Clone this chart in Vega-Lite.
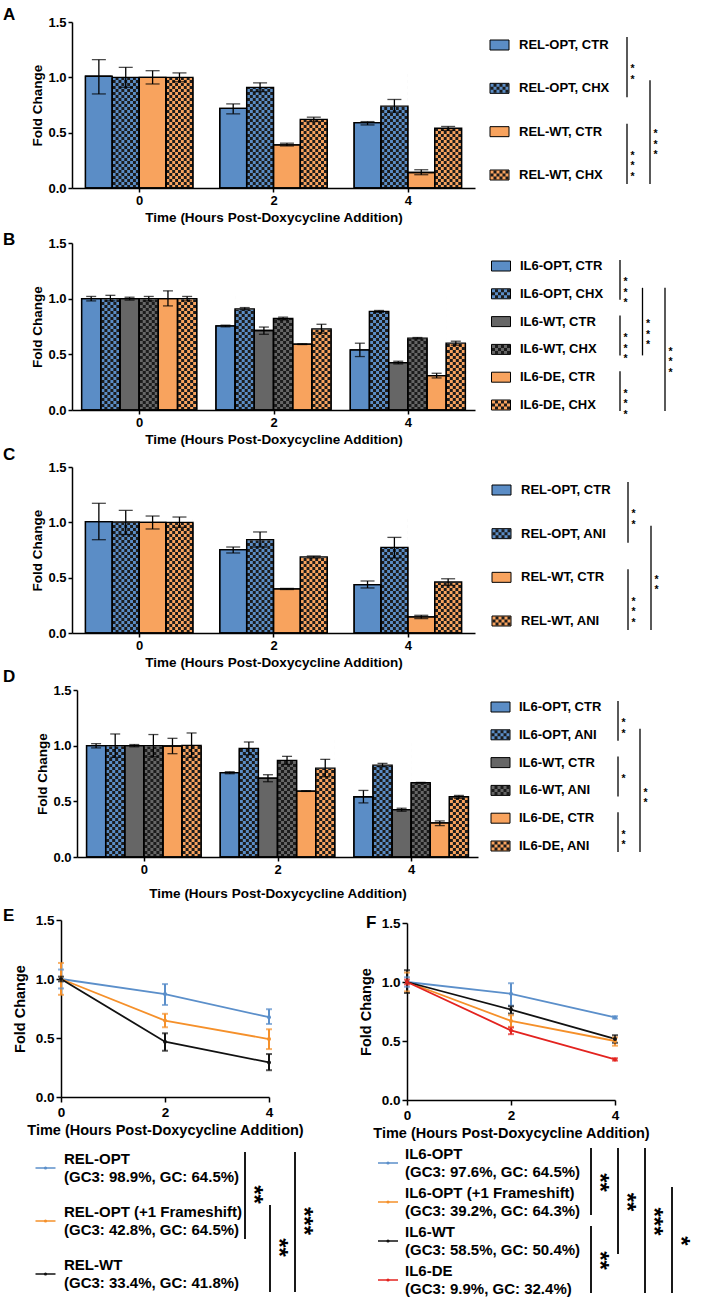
{
 "$schema": "https://vega.github.io/schema/vega-lite/v6.json",
 "background": "white",
 "padding": {"left": 3, "top": 6, "right": 2, "bottom": 2},
 "config": {
  "font": "Liberation Sans",
  "view": {"stroke": null},
  "axis": {"domainColor": "black", "domainWidth": 1.5, "tickColor": "black", "tickWidth": 1.5, "tickSize": 4, "labelColor": "black", "labelFont": "Liberation Sans", "labelFontWeight": "bold", "labelFontSize": 13, "labelPadding": 2, "titleColor": "black", "titleFont": "Liberation Sans", "titleFontWeight": "bold", "titleFontSize": 13.5, "grid": false},
  "title": {"font": "Liberation Sans", "fontSize": 17, "fontWeight": "bold", "color": "black", "anchor": "start", "frame": "group", "baseline": "alphabetic", "offset": 0},
  "text": {"font": "Liberation Sans", "fontWeight": "bold", "color": "black"}
 },
 "datasets": {
  "barsA": [
   {"time": "0", "construct": "REL-OPT", "treat": "CTR", "series": "REL-OPT, CTR", "mean": 1.01, "lo": 0.85, "hi": 1.16},
   {"time": "0", "construct": "REL-OPT", "treat": "CHX", "series": "REL-OPT, CHX", "mean": 1.0, "lo": 0.91, "hi": 1.09},
   {"time": "0", "construct": "REL-WT", "treat": "CTR", "series": "REL-WT, CTR", "mean": 1.0, "lo": 0.94, "hi": 1.06},
   {"time": "0", "construct": "REL-WT", "treat": "CHX", "series": "REL-WT, CHX", "mean": 1.0, "lo": 0.96, "hi": 1.04},
   {"time": "2", "construct": "REL-OPT", "treat": "CTR", "series": "REL-OPT, CTR", "mean": 0.72, "lo": 0.67, "hi": 0.76},
   {"time": "2", "construct": "REL-OPT", "treat": "CHX", "series": "REL-OPT, CHX", "mean": 0.91, "lo": 0.87, "hi": 0.95},
   {"time": "2", "construct": "REL-WT", "treat": "CTR", "series": "REL-WT, CTR", "mean": 0.39, "lo": 0.38, "hi": 0.405},
   {"time": "2", "construct": "REL-WT", "treat": "CHX", "series": "REL-WT, CHX", "mean": 0.62, "lo": 0.6, "hi": 0.64},
   {"time": "4", "construct": "REL-OPT", "treat": "CTR", "series": "REL-OPT, CTR", "mean": 0.59, "lo": 0.57, "hi": 0.6},
   {"time": "4", "construct": "REL-OPT", "treat": "CHX", "series": "REL-OPT, CHX", "mean": 0.74, "lo": 0.685, "hi": 0.8},
   {"time": "4", "construct": "REL-WT", "treat": "CTR", "series": "REL-WT, CTR", "mean": 0.14, "lo": 0.12, "hi": 0.165},
   {"time": "4", "construct": "REL-WT", "treat": "CHX", "series": "REL-WT, CHX", "mean": 0.54, "lo": 0.52, "hi": 0.556}
  ],
  "barsB": [
   {"time": "0", "construct": "IL6-OPT", "treat": "CTR", "series": "IL6-OPT, CTR", "mean": 1.0, "lo": 0.98, "hi": 1.02},
   {"time": "0", "construct": "IL6-OPT", "treat": "CHX", "series": "IL6-OPT, CHX", "mean": 1.0, "lo": 0.98, "hi": 1.03},
   {"time": "0", "construct": "IL6-WT", "treat": "CTR", "series": "IL6-WT, CTR", "mean": 1.0, "lo": 0.987, "hi": 1.013},
   {"time": "0", "construct": "IL6-WT", "treat": "CHX", "series": "IL6-WT, CHX", "mean": 1.0, "lo": 0.98, "hi": 1.02},
   {"time": "0", "construct": "IL6-DE", "treat": "CTR", "series": "IL6-DE, CTR", "mean": 1.0, "lo": 0.935, "hi": 1.07},
   {"time": "0", "construct": "IL6-DE", "treat": "CHX", "series": "IL6-DE, CHX", "mean": 1.0, "lo": 0.98, "hi": 1.02},
   {"time": "2", "construct": "IL6-OPT", "treat": "CTR", "series": "IL6-OPT, CTR", "mean": 0.756, "lo": 0.747, "hi": 0.762},
   {"time": "2", "construct": "IL6-OPT", "treat": "CHX", "series": "IL6-OPT, CHX", "mean": 0.909, "lo": 0.9, "hi": 0.92},
   {"time": "2", "construct": "IL6-WT", "treat": "CTR", "series": "IL6-WT, CTR", "mean": 0.714, "lo": 0.68, "hi": 0.745},
   {"time": "2", "construct": "IL6-WT", "treat": "CHX", "series": "IL6-WT, CHX", "mean": 0.822, "lo": 0.81, "hi": 0.834},
   {"time": "2", "construct": "IL6-DE", "treat": "CTR", "series": "IL6-DE, CTR", "mean": 0.591, "lo": 0.588, "hi": 0.594},
   {"time": "2", "construct": "IL6-DE", "treat": "CHX", "series": "IL6-DE, CHX", "mean": 0.729, "lo": 0.69, "hi": 0.77},
   {"time": "4", "construct": "IL6-OPT", "treat": "CTR", "series": "IL6-OPT, CTR", "mean": 0.54, "lo": 0.48, "hi": 0.6},
   {"time": "4", "construct": "IL6-OPT", "treat": "CHX", "series": "IL6-OPT, CHX", "mean": 0.885, "lo": 0.876, "hi": 0.894},
   {"time": "4", "construct": "IL6-WT", "treat": "CTR", "series": "IL6-WT, CTR", "mean": 0.426, "lo": 0.414, "hi": 0.438},
   {"time": "4", "construct": "IL6-WT", "treat": "CHX", "series": "IL6-WT, CHX", "mean": 0.645, "lo": 0.639, "hi": 0.651},
   {"time": "4", "construct": "IL6-DE", "treat": "CTR", "series": "IL6-DE, CTR", "mean": 0.309, "lo": 0.288, "hi": 0.33},
   {"time": "4", "construct": "IL6-DE", "treat": "CHX", "series": "IL6-DE, CHX", "mean": 0.6, "lo": 0.582, "hi": 0.618}
  ],
  "barsC": [
   {"time": "0", "construct": "REL-OPT", "treat": "CTR", "series": "REL-OPT, CTR", "mean": 1.006, "lo": 0.843, "hi": 1.172},
   {"time": "0", "construct": "REL-OPT", "treat": "ANI", "series": "REL-OPT, ANI", "mean": 1.003, "lo": 0.89, "hi": 1.108},
   {"time": "0", "construct": "REL-WT", "treat": "CTR", "series": "REL-WT, CTR", "mean": 1.0, "lo": 0.94, "hi": 1.057},
   {"time": "0", "construct": "REL-WT", "treat": "ANI", "series": "REL-WT, ANI", "mean": 1.0, "lo": 0.955, "hi": 1.048},
   {"time": "2", "construct": "REL-OPT", "treat": "CTR", "series": "REL-OPT, CTR", "mean": 0.753, "lo": 0.723, "hi": 0.777},
   {"time": "2", "construct": "REL-OPT", "treat": "ANI", "series": "REL-OPT, ANI", "mean": 0.843, "lo": 0.777, "hi": 0.913},
   {"time": "2", "construct": "REL-WT", "treat": "CTR", "series": "REL-WT, CTR", "mean": 0.398, "lo": 0.393, "hi": 0.403},
   {"time": "2", "construct": "REL-WT", "treat": "ANI", "series": "REL-WT, ANI", "mean": 0.687, "lo": 0.678, "hi": 0.696},
   {"time": "4", "construct": "REL-OPT", "treat": "CTR", "series": "REL-OPT, CTR", "mean": 0.437, "lo": 0.407, "hi": 0.47},
   {"time": "4", "construct": "REL-OPT", "treat": "ANI", "series": "REL-OPT, ANI", "mean": 0.774, "lo": 0.678, "hi": 0.864},
   {"time": "4", "construct": "REL-WT", "treat": "CTR", "series": "REL-WT, CTR", "mean": 0.145, "lo": 0.13, "hi": 0.16},
   {"time": "4", "construct": "REL-WT", "treat": "ANI", "series": "REL-WT, ANI", "mean": 0.461, "lo": 0.43, "hi": 0.49}
  ],
  "barsD": [
   {"time": "0", "construct": "IL6-OPT", "treat": "CTR", "series": "IL6-OPT, CTR", "mean": 1.0, "lo": 0.98, "hi": 1.018},
   {"time": "0", "construct": "IL6-OPT", "treat": "ANI", "series": "IL6-OPT, ANI", "mean": 1.0, "lo": 0.895, "hi": 1.105},
   {"time": "0", "construct": "IL6-WT", "treat": "CTR", "series": "IL6-WT, CTR", "mean": 1.0, "lo": 0.99, "hi": 1.01},
   {"time": "0", "construct": "IL6-WT", "treat": "ANI", "series": "IL6-WT, ANI", "mean": 1.0, "lo": 0.9, "hi": 1.1},
   {"time": "0", "construct": "IL6-DE", "treat": "CTR", "series": "IL6-DE, CTR", "mean": 0.997, "lo": 0.928, "hi": 1.066},
   {"time": "0", "construct": "IL6-DE", "treat": "ANI", "series": "IL6-DE, ANI", "mean": 1.003, "lo": 0.895, "hi": 1.114},
   {"time": "2", "construct": "IL6-OPT", "treat": "CTR", "series": "IL6-OPT, CTR", "mean": 0.757, "lo": 0.748, "hi": 0.766},
   {"time": "2", "construct": "IL6-OPT", "treat": "ANI", "series": "IL6-OPT, ANI", "mean": 0.976, "lo": 0.919, "hi": 1.033},
   {"time": "2", "construct": "IL6-WT", "treat": "CTR", "series": "IL6-WT, CTR", "mean": 0.709, "lo": 0.676, "hi": 0.739},
   {"time": "2", "construct": "IL6-WT", "treat": "ANI", "series": "IL6-WT, ANI", "mean": 0.868, "lo": 0.832, "hi": 0.904},
   {"time": "2", "construct": "IL6-DE", "treat": "CTR", "series": "IL6-DE, CTR", "mean": 0.592, "lo": 0.589, "hi": 0.595},
   {"time": "2", "construct": "IL6-DE", "treat": "ANI", "series": "IL6-DE, ANI", "mean": 0.799, "lo": 0.721, "hi": 0.877},
   {"time": "4", "construct": "IL6-OPT", "treat": "CTR", "series": "IL6-OPT, CTR", "mean": 0.541, "lo": 0.486, "hi": 0.598},
   {"time": "4", "construct": "IL6-OPT", "treat": "ANI", "series": "IL6-OPT, ANI", "mean": 0.826, "lo": 0.811, "hi": 0.841},
   {"time": "4", "construct": "IL6-WT", "treat": "CTR", "series": "IL6-WT, CTR", "mean": 0.426, "lo": 0.411, "hi": 0.438},
   {"time": "4", "construct": "IL6-WT", "treat": "ANI", "series": "IL6-WT, ANI", "mean": 0.667, "lo": 0.664, "hi": 0.67},
   {"time": "4", "construct": "IL6-DE", "treat": "CTR", "series": "IL6-DE, CTR", "mean": 0.306, "lo": 0.282, "hi": 0.324},
   {"time": "4", "construct": "IL6-DE", "treat": "ANI", "series": "IL6-DE, ANI", "mean": 0.541, "lo": 0.526, "hi": 0.553}
  ],
  "legA": [
   {"row": 1, "series": "REL-OPT, CTR", "construct": "REL-OPT", "treat": "CTR"},
   {"row": 2, "series": "REL-OPT, CHX", "construct": "REL-OPT", "treat": "CHX"},
   {"row": 3, "series": "REL-WT, CTR", "construct": "REL-WT", "treat": "CTR"},
   {"row": 4, "series": "REL-WT, CHX", "construct": "REL-WT", "treat": "CHX"}
  ],
  "legB": [
   {"row": 1, "series": "IL6-OPT, CTR", "construct": "IL6-OPT", "treat": "CTR"},
   {"row": 2, "series": "IL6-OPT, CHX", "construct": "IL6-OPT", "treat": "CHX"},
   {"row": 3, "series": "IL6-WT, CTR", "construct": "IL6-WT", "treat": "CTR"},
   {"row": 4, "series": "IL6-WT, CHX", "construct": "IL6-WT", "treat": "CHX"},
   {"row": 5, "series": "IL6-DE, CTR", "construct": "IL6-DE", "treat": "CTR"},
   {"row": 6, "series": "IL6-DE, CHX", "construct": "IL6-DE", "treat": "CHX"}
  ],
  "legC": [
   {"row": 1, "series": "REL-OPT, CTR", "construct": "REL-OPT", "treat": "CTR"},
   {"row": 2, "series": "REL-OPT, ANI", "construct": "REL-OPT", "treat": "ANI"},
   {"row": 3, "series": "REL-WT, CTR", "construct": "REL-WT", "treat": "CTR"},
   {"row": 4, "series": "REL-WT, ANI", "construct": "REL-WT", "treat": "ANI"}
  ],
  "legD": [
   {"row": 1, "series": "IL6-OPT, CTR", "construct": "IL6-OPT", "treat": "CTR"},
   {"row": 2, "series": "IL6-OPT, ANI", "construct": "IL6-OPT", "treat": "ANI"},
   {"row": 3, "series": "IL6-WT, CTR", "construct": "IL6-WT", "treat": "CTR"},
   {"row": 4, "series": "IL6-WT, ANI", "construct": "IL6-WT", "treat": "ANI"},
   {"row": 5, "series": "IL6-DE, CTR", "construct": "IL6-DE", "treat": "CTR"},
   {"row": 6, "series": "IL6-DE, ANI", "construct": "IL6-DE", "treat": "ANI"}
  ],
  "lineE": [
   {"series": "REL-OPT", "time": 0, "mean": 1.0, "lo": 0.92, "hi": 1.08},
   {"series": "REL-OPT", "time": 2, "mean": 0.872, "lo": 0.78, "hi": 0.957},
   {"series": "REL-OPT", "time": 4, "mean": 0.676, "lo": 0.619, "hi": 0.744},
   {"series": "REL-OPT (+1 Frameshift)", "time": 0, "mean": 1.0, "lo": 0.866, "hi": 1.136},
   {"series": "REL-OPT (+1 Frameshift)", "time": 2, "mean": 0.648, "lo": 0.591, "hi": 0.705},
   {"series": "REL-OPT (+1 Frameshift)", "time": 4, "mean": 0.491, "lo": 0.406, "hi": 0.574},
   {"series": "REL-WT", "time": 0, "mean": 1.0, "lo": 0.98, "hi": 1.02},
   {"series": "REL-WT", "time": 2, "mean": 0.469, "lo": 0.392, "hi": 0.54},
   {"series": "REL-WT", "time": 4, "mean": 0.293, "lo": 0.227, "hi": 0.364}
  ],
  "lineF": [
   {"series": "IL6-OPT", "time": 0, "mean": 1.0, "lo": 0.96, "hi": 1.04},
   {"series": "IL6-OPT", "time": 2, "mean": 0.9, "lo": 0.8, "hi": 0.99},
   {"series": "IL6-OPT", "time": 4, "mean": 0.7, "lo": 0.69, "hi": 0.71},
   {"series": "IL6-OPT (+1 Frameshift)", "time": 0, "mean": 1.0, "lo": 0.92, "hi": 1.08},
   {"series": "IL6-OPT (+1 Frameshift)", "time": 2, "mean": 0.67, "lo": 0.62, "hi": 0.718},
   {"series": "IL6-OPT (+1 Frameshift)", "time": 4, "mean": 0.5, "lo": 0.46, "hi": 0.53},
   {"series": "IL6-WT", "time": 0, "mean": 1.0, "lo": 0.907, "hi": 1.1},
   {"series": "IL6-WT", "time": 2, "mean": 0.766, "lo": 0.732, "hi": 0.794},
   {"series": "IL6-WT", "time": 4, "mean": 0.518, "lo": 0.485, "hi": 0.549},
   {"series": "IL6-DE", "time": 0, "mean": 1.0, "lo": 0.98, "hi": 1.02},
   {"series": "IL6-DE", "time": 2, "mean": 0.59, "lo": 0.558, "hi": 0.614},
   {"series": "IL6-DE", "time": 4, "mean": 0.344, "lo": 0.334, "hi": 0.354}
  ],
  "legE": [
   {"row": 1, "series": "REL-OPT", "gc": "(GC3: 98.9%, GC: 64.5%)"},
   {"row": 2, "series": "REL-OPT (+1 Frameshift)", "gc": "(GC3: 42.8%, GC: 64.5%)"},
   {"row": 3, "series": "REL-WT", "gc": "(GC3: 33.4%, GC: 41.8%)"}
  ],
  "legF": [
   {"row": 1, "series": "IL6-OPT", "gc": "(GC3: 97.6%, GC: 64.5%)"},
   {"row": 2, "series": "IL6-OPT (+1 Frameshift)", "gc": "(GC3: 39.2%, GC: 64.3%)"},
   {"row": 3, "series": "IL6-WT", "gc": "(GC3: 58.5%, GC: 50.4%)"},
   {"row": 4, "series": "IL6-DE", "gc": "(GC3: 9.9%, GC: 32.4%)"}
  ],
  "brkA": [
   {"from": 1, "to": 2, "level": 1, "stars": "**"},
   {"from": 3, "to": 4, "level": 1, "stars": "***"},
   {"from": 2, "to": 4, "level": 2, "stars": "***"}
  ],
  "brkB": [
   {"from": 1, "to": 2, "level": 1, "stars": "***"},
   {"from": 3, "to": 4, "level": 1, "stars": "***"},
   {"from": 5, "to": 6, "level": 1, "stars": "***"},
   {"from": 2, "to": 4, "level": 2, "stars": "***"},
   {"from": 2, "to": 6, "level": 3, "stars": "***"}
  ],
  "brkC": [
   {"from": 1, "to": 2, "level": 1, "stars": "**"},
   {"from": 3, "to": 4, "level": 1, "stars": "***"},
   {"from": 2, "to": 4, "level": 2, "stars": "**"}
  ],
  "brkD": [
   {"from": 1, "to": 2, "level": 1, "stars": "**"},
   {"from": 3, "to": 4, "level": 1, "stars": "*"},
   {"from": 5, "to": 6, "level": 1, "stars": "**"},
   {"from": 2, "to": 6, "level": 2, "stars": "**"}
  ],
  "brkE": [
   {"from": 1, "to": 2, "level": 1, "stars": "**"},
   {"from": 2, "to": 3, "level": 2, "stars": "**"},
   {"from": 1, "to": 3, "level": 3, "stars": "***"}
  ],
  "brkF": [
   {"from": 1, "to": 2, "level": 1, "stars": "**"},
   {"from": 3, "to": 4, "level": 1, "stars": "**"},
   {"from": 1, "to": 3, "level": 2, "stars": "**"},
   {"from": 1, "to": 4, "level": 3, "stars": "***"},
   {"from": 2, "to": 4, "level": 4, "stars": "*"}
  ],
  "panelF": [{"panel": "F"}]
 },
 "spacing": 10,
 "bounds": "flush",
 "vconcat": [
  {
   "width": 403, "height": 166,
   "title": {"text": "A", "dx": -69, "dy": 12},
   "layer": [
    {
     "data": {"name": "barsA"},
     "transform": [{"calculate": "datum.time + '|' + datum.series", "as": "slot"}],
     "encoding": {
      "x": {"field": "slot", "type": "nominal", "sort": null, "scale": {"type": "band", "domain": ["0|REL-OPT, CTR", "0|REL-OPT, CHX", "0|REL-WT, CTR", "0|REL-WT, CHX", "gap 1", "2|REL-OPT, CTR", "2|REL-OPT, CHX", "2|REL-WT, CTR", "2|REL-WT, CHX", "gap 2", "4|REL-OPT, CTR", "4|REL-OPT, CHX", "4|REL-WT, CTR", "4|REL-WT, CHX"], "paddingInner": 0, "paddingOuter": 0.5}, "axis": {"orient": "bottom", "values": ["0|REL-OPT, CHX", "2|REL-OPT, CHX", "4|REL-OPT, CHX"], "tickOffset": 13.43, "labelExpr": "split(datum.value, '|')[0]", "labelAngle": 0, "title": "Time (Hours Post-Doxycycline Addition)", "titlePadding": 3}}
     },
     "layer": [
      {"mark": {"type": "bar", "stroke": "black", "strokeWidth": 1.3}, "encoding": {"y": {"field": "mean", "type": "quantitative", "scale": {"domain": [0, 1.5], "nice": false}, "axis": {"orient": "left", "values": [0, 0.5, 1, 1.5], "format": ".1f", "title": "Fold Change", "titlePadding": 3}}, "fill": {"field": "construct", "type": "nominal", "scale": {"domain": ["REL-OPT", "REL-WT", "IL6-OPT", "IL6-WT", "IL6-DE"], "range": ["#5b8dc6", "#f8a35e", "#5b8dc6", "#666666", "#f8a35e"]}, "legend": null}}},
      {"transform": [{"filter": "datum.treat != 'CTR'"}], "mark": {"type": "point", "shape": "M-10.15,0V-117H-7.25V0Z M-4.35,0V-117H-1.45V0Z M1.45,0V-117H4.35V0Z M7.25,0V-117H10.15V0Z M-13.05,-3H13.05V-6H-13.05Z M-13.05,-9H13.05V-12H-13.05Z M-13.05,-15H13.05V-18H-13.05Z M-13.05,-21H13.05V-24H-13.05Z M-13.05,-27H13.05V-30H-13.05Z M-13.05,-33H13.05V-36H-13.05Z M-13.05,-39H13.05V-42H-13.05Z M-13.05,-45H13.05V-48H-13.05Z M-13.05,-51H13.05V-54H-13.05Z M-13.05,-57H13.05V-60H-13.05Z M-13.05,-63H13.05V-66H-13.05Z M-13.05,-69H13.05V-72H-13.05Z M-13.05,-75H13.05V-78H-13.05Z M-13.05,-81H13.05V-84H-13.05Z M-13.05,-87H13.05V-90H-13.05Z M-13.05,-93H13.05V-96H-13.05Z M-13.05,-99H13.05V-102H-13.05Z M-13.05,-105H13.05V-108H-13.05Z M-13.05,-111H13.05V-114H-13.05Z", "size": 4, "filled": true, "opacity": 1, "color": "#1c1c1c", "strokeWidth": 0}, "encoding": {"y": {"datum": 0, "type": "quantitative"}}},
      {"transform": [{"filter": "datum.treat != 'CTR'"}], "mark": {"type": "bar", "color": "white", "stroke": "white", "strokeWidth": 1.2}, "encoding": {"y": {"field": "mean", "type": "quantitative"}, "y2": {"datum": 1.5}}},
      {"mark": {"type": "bar", "fillOpacity": 0, "stroke": "black", "strokeWidth": 1.3}, "encoding": {"y": {"field": "mean", "type": "quantitative"}}},
      {"mark": {"type": "rule", "color": "black", "strokeWidth": 1.3}, "encoding": {"y": {"field": "lo", "type": "quantitative"}, "y2": {"field": "hi"}}},
      {"mark": {"type": "tick", "color": "black", "thickness": 1.3, "size": 14}, "encoding": {"y": {"field": "lo", "type": "quantitative"}}},
      {"mark": {"type": "tick", "color": "black", "thickness": 1.3, "size": 14}, "encoding": {"y": {"field": "hi", "type": "quantitative"}}}
     ]
    },
    {
     "data": {"name": "legA"},
     "encoding": {"y": {"field": "row", "type": "quantitative", "scale": {"domain": [1, 4], "range": [23, 153]}, "axis": null}},
     "layer": [
      {"mark": {"type": "point", "shape": "M-9.5,-5H9.5V5H-9.5Z", "size": 4, "filled": true, "opacity": 1, "stroke": "black", "strokeWidth": 1}, "encoding": {"x": {"datum": "swatch", "type": "nominal", "scale": {"type": "point", "padding": 0, "domain": ["swatch", "label"], "range": [427.5, 447]}, "axis": null}, "fill": {"field": "construct", "type": "nominal", "legend": null}}},
      {"transform": [{"filter": "datum.treat != 'CTR'"}], "mark": {"type": "point", "shape": "M-6,4.5V-4.5H-3V4.5Z M0,4.5V-4.5H3V4.5Z M6,4.5V-4.5H9V4.5Z M-9,1.5H9V-1.5H-9Z", "size": 4, "filled": true, "opacity": 1, "color": "#1c1c1c", "strokeWidth": 0}, "encoding": {"x": {"datum": "swatch", "type": "nominal"}}},
      {"mark": {"type": "text", "align": "left", "baseline": "middle", "fontSize": 13, "color": "black"}, "encoding": {"x": {"datum": "label", "type": "nominal"}, "text": {"field": "series"}}}
     ]
    },
    {
     "data": {"name": "brkA"},
     "encoding": {"x": {"field": "level", "type": "quantitative", "scale": {"domain": [1, 2], "range": [555, 578]}, "axis": null}},
     "layer": [
      {"mark": {"type": "rule", "color": "black", "strokeWidth": 1.3, "yOffset": -8, "y2Offset": 9}, "encoding": {"y": {"field": "from", "type": "quantitative", "scale": {"domain": [1, 4], "range": [23, 153]}, "axis": null}, "y2": {"field": "to"}}},
      {"transform": [{"fold": ["from", "to"], "as": ["end", "pos"]}, {"aggregate": [{"op": "mean", "field": "pos", "as": "mid"}], "groupby": ["level", "stars", "from"]}, {"calculate": "split(datum.stars, '')", "as": "starcol"}], "mark": {"type": "text", "fontSize": 10.5, "lineHeight": 10.5, "align": "center", "baseline": "middle", "xOffset": 5.5, "dy": 2.5, "color": "black"}, "encoding": {"y": {"field": "mid", "type": "quantitative"}, "text": {"field": "starcol"}}}
     ]
    }
   ],
   "resolve": {"scale": {"x": "independent", "y": "independent"}}
  },
  {
   "width": 403, "height": 212,
   "title": {"text": "B", "dx": -69, "dy": 54.5},
   "layer": [
    {
     "data": {"name": "barsB"},
     "transform": [{"calculate": "datum.time + '|' + datum.series", "as": "slot"}],
     "encoding": {
      "x": {"field": "slot", "type": "nominal", "sort": null, "scale": {"type": "band", "domain": ["0|IL6-OPT, CTR", "0|IL6-OPT, CHX", "0|IL6-WT, CTR", "0|IL6-WT, CHX", "0|IL6-DE, CTR", "0|IL6-DE, CHX", "gap 1", "2|IL6-OPT, CTR", "2|IL6-OPT, CHX", "2|IL6-WT, CTR", "2|IL6-WT, CHX", "2|IL6-DE, CTR", "2|IL6-DE, CHX", "gap 2", "4|IL6-OPT, CTR", "4|IL6-OPT, CHX", "4|IL6-WT, CTR", "4|IL6-WT, CHX", "4|IL6-DE, CTR", "4|IL6-DE, CHX"], "paddingInner": 0, "paddingOuter": 0.5}, "axis": {"orient": "bottom", "values": ["0|IL6-WT, CTR", "2|IL6-WT, CTR", "4|IL6-WT, CTR"], "tickOffset": 9.6, "labelExpr": "split(datum.value, '|')[0]", "labelAngle": 0, "title": "Time (Hours Post-Doxycycline Addition)", "titlePadding": 3}}
     },
     "layer": [
      {"mark": {"type": "bar", "stroke": "black", "strokeWidth": 1.3}, "encoding": {"y": {"field": "mean", "type": "quantitative", "scale": {"domain": [0, 1.5], "nice": false, "range": [212, 45]}, "axis": {"orient": "left", "values": [0, 0.5, 1, 1.5], "format": ".1f", "title": "Fold Change", "titlePadding": 3}}, "fill": {"field": "construct", "type": "nominal", "scale": {"domain": ["REL-OPT", "REL-WT", "IL6-OPT", "IL6-WT", "IL6-DE"], "range": ["#5b8dc6", "#f8a35e", "#5b8dc6", "#666666", "#f8a35e"]}, "legend": null}}},
      {"transform": [{"filter": "datum.treat != 'CTR'"}], "mark": {"type": "point", "shape": "M-6,0V-117H-3V0Z M0,0V-117H3V0Z M6,0V-117H9V0Z M-9,-3H9V-6H-9Z M-9,-9H9V-12H-9Z M-9,-15H9V-18H-9Z M-9,-21H9V-24H-9Z M-9,-27H9V-30H-9Z M-9,-33H9V-36H-9Z M-9,-39H9V-42H-9Z M-9,-45H9V-48H-9Z M-9,-51H9V-54H-9Z M-9,-57H9V-60H-9Z M-9,-63H9V-66H-9Z M-9,-69H9V-72H-9Z M-9,-75H9V-78H-9Z M-9,-81H9V-84H-9Z M-9,-87H9V-90H-9Z M-9,-93H9V-96H-9Z M-9,-99H9V-102H-9Z M-9,-105H9V-108H-9Z M-9,-111H9V-114H-9Z", "size": 4, "filled": true, "opacity": 1, "color": "#1c1c1c", "strokeWidth": 0}, "encoding": {"y": {"datum": 0, "type": "quantitative"}}},
      {"transform": [{"filter": "datum.treat != 'CTR'"}], "mark": {"type": "bar", "color": "white", "stroke": "white", "strokeWidth": 1.2}, "encoding": {"y": {"field": "mean", "type": "quantitative"}, "y2": {"datum": 1.5}}},
      {"mark": {"type": "bar", "fillOpacity": 0, "stroke": "black", "strokeWidth": 1.3}, "encoding": {"y": {"field": "mean", "type": "quantitative"}}},
      {"mark": {"type": "rule", "color": "black", "strokeWidth": 1.3}, "encoding": {"y": {"field": "lo", "type": "quantitative"}, "y2": {"field": "hi"}}},
      {"mark": {"type": "tick", "color": "black", "thickness": 1.3, "size": 10}, "encoding": {"y": {"field": "lo", "type": "quantitative"}}},
      {"mark": {"type": "tick", "color": "black", "thickness": 1.3, "size": 10}, "encoding": {"y": {"field": "hi", "type": "quantitative"}}}
     ]
    },
    {
     "data": {"name": "legB"},
     "encoding": {"y": {"field": "row", "type": "quantitative", "scale": {"domain": [1, 6], "range": [68, 207]}, "axis": null}},
     "layer": [
      {"mark": {"type": "point", "shape": "M-9.5,-5H9.5V5H-9.5Z", "size": 4, "filled": true, "opacity": 1, "stroke": "black", "strokeWidth": 1}, "encoding": {"x": {"datum": "swatch", "type": "nominal", "scale": {"type": "point", "padding": 0, "domain": ["swatch", "label"], "range": [429, 448]}, "axis": null}, "fill": {"field": "construct", "type": "nominal", "legend": null}}},
      {"transform": [{"filter": "datum.treat != 'CTR'"}], "mark": {"type": "point", "shape": "M-6,4.5V-4.5H-3V4.5Z M0,4.5V-4.5H3V4.5Z M6,4.5V-4.5H9V4.5Z M-9,1.5H9V-1.5H-9Z", "size": 4, "filled": true, "opacity": 1, "color": "#1c1c1c", "strokeWidth": 0}, "encoding": {"x": {"datum": "swatch", "type": "nominal"}}},
      {"mark": {"type": "text", "align": "left", "baseline": "middle", "fontSize": 13, "color": "black"}, "encoding": {"x": {"datum": "label", "type": "nominal"}, "text": {"field": "series"}}}
     ]
    },
    {
     "data": {"name": "brkB"},
     "encoding": {"x": {"field": "level", "type": "quantitative", "scale": {"domain": [1, 3], "range": [548, 593]}, "axis": null}},
     "layer": [
      {"mark": {"type": "rule", "color": "black", "strokeWidth": 1.3, "yOffset": -6, "y2Offset": 6}, "encoding": {"y": {"field": "from", "type": "quantitative", "scale": {"domain": [1, 6], "range": [68, 207]}, "axis": null}, "y2": {"field": "to"}}},
      {"transform": [{"fold": ["from", "to"], "as": ["end", "pos"]}, {"aggregate": [{"op": "mean", "field": "pos", "as": "mid"}], "groupby": ["level", "stars", "from"]}, {"calculate": "split(datum.stars, '')", "as": "starcol"}], "mark": {"type": "text", "fontSize": 10.5, "lineHeight": 10.5, "align": "center", "baseline": "middle", "xOffset": 5.5, "dy": 2.5, "color": "black"}, "encoding": {"y": {"field": "mid", "type": "quantitative"}, "text": {"field": "starcol"}}}
     ]
    }
   ],
   "resolve": {"scale": {"x": "independent", "y": "independent"}}
  },
  {
   "width": 403, "height": 213,
   "title": {"text": "C", "dx": -69, "dy": 47.5},
   "layer": [
    {
     "data": {"name": "barsC"},
     "transform": [{"calculate": "datum.time + '|' + datum.series", "as": "slot"}],
     "encoding": {
      "x": {"field": "slot", "type": "nominal", "sort": null, "scale": {"type": "band", "domain": ["0|REL-OPT, CTR", "0|REL-OPT, ANI", "0|REL-WT, CTR", "0|REL-WT, ANI", "gap 1", "2|REL-OPT, CTR", "2|REL-OPT, ANI", "2|REL-WT, CTR", "2|REL-WT, ANI", "gap 2", "4|REL-OPT, CTR", "4|REL-OPT, ANI", "4|REL-WT, CTR", "4|REL-WT, ANI"], "paddingInner": 0, "paddingOuter": 0.5}, "axis": {"orient": "bottom", "values": ["0|REL-OPT, ANI", "2|REL-OPT, ANI", "4|REL-OPT, ANI"], "tickOffset": 13.43, "labelExpr": "split(datum.value, '|')[0]", "labelAngle": 0, "title": "Time (Hours Post-Doxycycline Addition)", "titlePadding": 3}}
     },
     "layer": [
      {"mark": {"type": "bar", "stroke": "black", "strokeWidth": 1.3}, "encoding": {"y": {"field": "mean", "type": "quantitative", "scale": {"domain": [0, 1.5], "nice": false, "range": [213, 47]}, "axis": {"orient": "left", "values": [0, 0.5, 1, 1.5], "format": ".1f", "title": "Fold Change", "titlePadding": 3}}, "fill": {"field": "construct", "type": "nominal", "scale": {"domain": ["REL-OPT", "REL-WT", "IL6-OPT", "IL6-WT", "IL6-DE"], "range": ["#5b8dc6", "#f8a35e", "#5b8dc6", "#666666", "#f8a35e"]}, "legend": null}}},
      {"transform": [{"filter": "datum.treat != 'CTR'"}], "mark": {"type": "point", "shape": "M-10.15,0V-117H-7.25V0Z M-4.35,0V-117H-1.45V0Z M1.45,0V-117H4.35V0Z M7.25,0V-117H10.15V0Z M-13.05,-3H13.05V-6H-13.05Z M-13.05,-9H13.05V-12H-13.05Z M-13.05,-15H13.05V-18H-13.05Z M-13.05,-21H13.05V-24H-13.05Z M-13.05,-27H13.05V-30H-13.05Z M-13.05,-33H13.05V-36H-13.05Z M-13.05,-39H13.05V-42H-13.05Z M-13.05,-45H13.05V-48H-13.05Z M-13.05,-51H13.05V-54H-13.05Z M-13.05,-57H13.05V-60H-13.05Z M-13.05,-63H13.05V-66H-13.05Z M-13.05,-69H13.05V-72H-13.05Z M-13.05,-75H13.05V-78H-13.05Z M-13.05,-81H13.05V-84H-13.05Z M-13.05,-87H13.05V-90H-13.05Z M-13.05,-93H13.05V-96H-13.05Z M-13.05,-99H13.05V-102H-13.05Z M-13.05,-105H13.05V-108H-13.05Z M-13.05,-111H13.05V-114H-13.05Z", "size": 4, "filled": true, "opacity": 1, "color": "#1c1c1c", "strokeWidth": 0}, "encoding": {"y": {"datum": 0, "type": "quantitative"}}},
      {"transform": [{"filter": "datum.treat != 'CTR'"}], "mark": {"type": "bar", "color": "white", "stroke": "white", "strokeWidth": 1.2}, "encoding": {"y": {"field": "mean", "type": "quantitative"}, "y2": {"datum": 1.5}}},
      {"mark": {"type": "bar", "fillOpacity": 0, "stroke": "black", "strokeWidth": 1.3}, "encoding": {"y": {"field": "mean", "type": "quantitative"}}},
      {"mark": {"type": "rule", "color": "black", "strokeWidth": 1.3}, "encoding": {"y": {"field": "lo", "type": "quantitative"}, "y2": {"field": "hi"}}},
      {"mark": {"type": "tick", "color": "black", "thickness": 1.3, "size": 14}, "encoding": {"y": {"field": "lo", "type": "quantitative"}}},
      {"mark": {"type": "tick", "color": "black", "thickness": 1.3, "size": 14}, "encoding": {"y": {"field": "hi", "type": "quantitative"}}}
     ]
    },
    {
     "data": {"name": "legC"},
     "encoding": {"y": {"field": "row", "type": "quantitative", "scale": {"domain": [1, 4], "range": [70, 201]}, "axis": null}},
     "layer": [
      {"mark": {"type": "point", "shape": "M-9.5,-5H9.5V5H-9.5Z", "size": 4, "filled": true, "opacity": 1, "stroke": "black", "strokeWidth": 1}, "encoding": {"x": {"datum": "swatch", "type": "nominal", "scale": {"type": "point", "padding": 0, "domain": ["swatch", "label"], "range": [429.5, 449]}, "axis": null}, "fill": {"field": "construct", "type": "nominal", "legend": null}}},
      {"transform": [{"filter": "datum.treat != 'CTR'"}], "mark": {"type": "point", "shape": "M-6,4.5V-4.5H-3V4.5Z M0,4.5V-4.5H3V4.5Z M6,4.5V-4.5H9V4.5Z M-9,1.5H9V-1.5H-9Z", "size": 4, "filled": true, "opacity": 1, "color": "#1c1c1c", "strokeWidth": 0}, "encoding": {"x": {"datum": "swatch", "type": "nominal"}}},
      {"mark": {"type": "text", "align": "left", "baseline": "middle", "fontSize": 13, "color": "black"}, "encoding": {"x": {"datum": "label", "type": "nominal"}, "text": {"field": "series"}}}
     ]
    },
    {
     "data": {"name": "brkC"},
     "encoding": {"x": {"field": "level", "type": "quantitative", "scale": {"domain": [1, 2], "range": [556, 579]}, "axis": null}},
     "layer": [
      {"mark": {"type": "rule", "color": "black", "strokeWidth": 1.3, "yOffset": -8, "y2Offset": 9}, "encoding": {"y": {"field": "from", "type": "quantitative", "scale": {"domain": [1, 4], "range": [70, 201]}, "axis": null}, "y2": {"field": "to"}}},
      {"transform": [{"fold": ["from", "to"], "as": ["end", "pos"]}, {"aggregate": [{"op": "mean", "field": "pos", "as": "mid"}], "groupby": ["level", "stars", "from"]}, {"calculate": "split(datum.stars, '')", "as": "starcol"}], "mark": {"type": "text", "fontSize": 10.5, "lineHeight": 10.5, "align": "center", "baseline": "middle", "xOffset": 5.5, "dy": 2.5, "color": "black"}, "encoding": {"y": {"field": "mid", "type": "quantitative"}, "text": {"field": "starcol"}}}
     ]
    }
   ],
   "resolve": {"scale": {"x": "independent", "y": "independent"}}
  },
  {
   "width": 403, "height": 214,
   "title": {"text": "D", "dx": -69, "dy": 46.5},
   "layer": [
    {
     "data": {"name": "barsD"},
     "transform": [{"calculate": "datum.time + '|' + datum.series", "as": "slot"}],
     "encoding": {
      "x": {"field": "slot", "type": "nominal", "sort": null, "scale": {"type": "band", "domain": ["0|IL6-OPT, CTR", "0|IL6-OPT, ANI", "0|IL6-WT, CTR", "0|IL6-WT, ANI", "0|IL6-DE, CTR", "0|IL6-DE, ANI", "gap 1", "2|IL6-OPT, CTR", "2|IL6-OPT, ANI", "2|IL6-WT, CTR", "2|IL6-WT, ANI", "2|IL6-DE, CTR", "2|IL6-DE, ANI", "gap 2", "4|IL6-OPT, CTR", "4|IL6-OPT, ANI", "4|IL6-WT, CTR", "4|IL6-WT, ANI", "4|IL6-DE, CTR", "4|IL6-DE, ANI"], "paddingInner": 0, "paddingOuter": 0.5, "range": [5, 406]}, "axis": {"orient": "bottom", "values": ["0|IL6-WT, CTR", "2|IL6-WT, CTR", "4|IL6-WT, CTR"], "tickOffset": 9.55, "labelExpr": "split(datum.value, '|')[0]", "labelAngle": 0, "title": "Time (Hours Post-Doxycycline Addition)", "titlePadding": 10}}
     },
     "layer": [
      {"mark": {"type": "bar", "stroke": "black", "strokeWidth": 1.3}, "encoding": {"y": {"field": "mean", "type": "quantitative", "scale": {"domain": [0, 1.5], "nice": false, "range": [214, 47]}, "axis": {"orient": "left", "offset": -5, "values": [0, 0.5, 1, 1.5], "format": ".1f", "title": "Fold Change", "titlePadding": 3}}, "fill": {"field": "construct", "type": "nominal", "scale": {"domain": ["REL-OPT", "REL-WT", "IL6-OPT", "IL6-WT", "IL6-DE"], "range": ["#5b8dc6", "#f8a35e", "#5b8dc6", "#666666", "#f8a35e"]}, "legend": null}}},
      {"transform": [{"filter": "datum.treat != 'CTR'"}], "mark": {"type": "point", "shape": "M-6,0V-117H-3V0Z M0,0V-117H3V0Z M6,0V-117H9V0Z M-9,-3H9V-6H-9Z M-9,-9H9V-12H-9Z M-9,-15H9V-18H-9Z M-9,-21H9V-24H-9Z M-9,-27H9V-30H-9Z M-9,-33H9V-36H-9Z M-9,-39H9V-42H-9Z M-9,-45H9V-48H-9Z M-9,-51H9V-54H-9Z M-9,-57H9V-60H-9Z M-9,-63H9V-66H-9Z M-9,-69H9V-72H-9Z M-9,-75H9V-78H-9Z M-9,-81H9V-84H-9Z M-9,-87H9V-90H-9Z M-9,-93H9V-96H-9Z M-9,-99H9V-102H-9Z M-9,-105H9V-108H-9Z M-9,-111H9V-114H-9Z", "size": 4, "filled": true, "opacity": 1, "color": "#1c1c1c", "strokeWidth": 0}, "encoding": {"y": {"datum": 0, "type": "quantitative"}}},
      {"transform": [{"filter": "datum.treat != 'CTR'"}], "mark": {"type": "bar", "color": "white", "stroke": "white", "strokeWidth": 1.2}, "encoding": {"y": {"field": "mean", "type": "quantitative"}, "y2": {"datum": 1.5}}},
      {"mark": {"type": "bar", "fillOpacity": 0, "stroke": "black", "strokeWidth": 1.3}, "encoding": {"y": {"field": "mean", "type": "quantitative"}}},
      {"mark": {"type": "rule", "color": "black", "strokeWidth": 1.3}, "encoding": {"y": {"field": "lo", "type": "quantitative"}, "y2": {"field": "hi"}}},
      {"mark": {"type": "tick", "color": "black", "thickness": 1.3, "size": 10}, "encoding": {"y": {"field": "lo", "type": "quantitative"}}},
      {"mark": {"type": "tick", "color": "black", "thickness": 1.3, "size": 10}, "encoding": {"y": {"field": "hi", "type": "quantitative"}}}
     ]
    },
    {
     "data": {"name": "legD"},
     "encoding": {"y": {"field": "row", "type": "quantitative", "scale": {"domain": [1, 6], "range": [64, 203]}, "axis": null}},
     "layer": [
      {"mark": {"type": "point", "shape": "M-9.5,-5H9.5V5H-9.5Z", "size": 4, "filled": true, "opacity": 1, "stroke": "black", "strokeWidth": 1}, "encoding": {"x": {"datum": "swatch", "type": "nominal", "scale": {"type": "point", "padding": 0, "domain": ["swatch", "label"], "range": [428.5, 447]}, "axis": null}, "fill": {"field": "construct", "type": "nominal", "legend": null}}},
      {"transform": [{"filter": "datum.treat != 'CTR'"}], "mark": {"type": "point", "shape": "M-6,4.5V-4.5H-3V4.5Z M0,4.5V-4.5H3V4.5Z M6,4.5V-4.5H9V4.5Z M-9,1.5H9V-1.5H-9Z", "size": 4, "filled": true, "opacity": 1, "color": "#1c1c1c", "strokeWidth": 0}, "encoding": {"x": {"datum": "swatch", "type": "nominal"}}},
      {"mark": {"type": "text", "align": "left", "baseline": "middle", "fontSize": 13, "color": "black"}, "encoding": {"x": {"datum": "label", "type": "nominal"}, "text": {"field": "series"}}}
     ]
    },
    {
     "data": {"name": "brkD"},
     "encoding": {"x": {"field": "level", "type": "quantitative", "scale": {"domain": [1, 2], "range": [546, 568]}, "axis": null}},
     "layer": [
      {"mark": {"type": "rule", "color": "black", "strokeWidth": 1.3, "yOffset": -6, "y2Offset": 6}, "encoding": {"y": {"field": "from", "type": "quantitative", "scale": {"domain": [1, 6], "range": [64, 203]}, "axis": null}, "y2": {"field": "to"}}},
      {"transform": [{"fold": ["from", "to"], "as": ["end", "pos"]}, {"aggregate": [{"op": "mean", "field": "pos", "as": "mid"}], "groupby": ["level", "stars", "from"]}, {"calculate": "split(datum.stars, '')", "as": "starcol"}], "mark": {"type": "text", "fontSize": 10.5, "lineHeight": 10.5, "align": "center", "baseline": "middle", "xOffset": 5.5, "dy": 2.5, "color": "black"}, "encoding": {"y": {"field": "mid", "type": "quantitative"}, "text": {"field": "starcol"}}}
     ]
    }
   ],
   "resolve": {"scale": {"x": "independent", "y": "independent"}}
  },
  {
   "width": 543, "height": 230,
   "title": {"text": "E", "dx": -69, "dy": 61.5},
   "layer": [
    {
     "data": {"name": "lineE"},
     "encoding": {
      "x": {"field": "time", "type": "quantitative", "scale": {"domain": [0, 4], "nice": false, "zero": false, "range": [-11, 197]}, "axis": {"orient": "bottom", "values": [0, 2, 4], "format": "d", "labelFlush": false, "tickSize": 5, "labelPadding": 3, "labelFontSize": 13.5, "title": "Time (Hours Post-Doxycycline Addition)", "titleFontSize": 14.5, "titlePadding": 5}},
      "color": {"field": "series", "type": "nominal", "scale": {"domain": ["REL-OPT", "REL-OPT (+1 Frameshift)", "REL-WT", "IL6-OPT", "IL6-OPT (+1 Frameshift)", "IL6-WT", "IL6-DE"], "range": ["#5b8fca", "#f5902a", "#111111", "#5b8fca", "#f5902a", "#111111", "#e3231f"]}, "legend": null}
     },
     "layer": [
      {"mark": {"type": "line", "strokeWidth": 1.8}, "encoding": {"y": {"field": "mean", "type": "quantitative", "scale": {"domain": [0, 1.5], "nice": false, "range": [230, 53]}, "axis": {"orient": "left", "offset": 11, "values": [0, 0.5, 1, 1.5], "format": ".1f", "title": "Fold Change", "titleFontSize": 14.5, "labelFontSize": 13.5, "tickSize": 5, "labelPadding": 2, "titlePadding": 8}}}},
      {"mark": {"type": "rule", "strokeWidth": 2}, "encoding": {"y": {"field": "lo", "type": "quantitative"}, "y2": {"field": "hi"}}},
      {"mark": {"type": "tick", "orient": "horizontal", "size": 6, "thickness": 2}, "encoding": {"y": {"field": "lo", "type": "quantitative"}}},
      {"mark": {"type": "tick", "orient": "horizontal", "size": 6, "thickness": 2}, "encoding": {"y": {"field": "hi", "type": "quantitative"}}},
      {"mark": {"type": "point", "filled": true, "size": 16, "opacity": 1}, "encoding": {"y": {"field": "mean", "type": "quantitative"}}}
     ]
    },
    {
     "data": {"name": "lineF"},
     "encoding": {
      "x": {"field": "time", "type": "quantitative", "scale": {"domain": [0, 4], "nice": false, "zero": false, "range": [335, 543]}, "axis": {"orient": "bottom", "offset": 3, "values": [0, 2, 4], "format": "d", "labelFlush": false, "tickSize": 5, "labelPadding": 3, "labelFontSize": 13.5, "title": "Time (Hours Post-Doxycycline Addition)", "titleFontSize": 14.5, "titlePadding": 5}},
      "color": {"field": "series", "type": "nominal", "legend": null}
     },
     "layer": [
      {"mark": {"type": "line", "strokeWidth": 1.8}, "encoding": {"y": {"field": "mean", "type": "quantitative", "scale": {"domain": [0, 1.5], "nice": false, "range": [233, 56]}, "axis": {"orient": "left", "offset": -335, "values": [0, 0.5, 1, 1.5], "format": ".1f", "title": "Fold Change", "titleFontSize": 14.5, "labelFontSize": 13.5, "tickSize": 5, "labelPadding": 2, "titlePadding": 8}}}},
      {"mark": {"type": "rule", "strokeWidth": 2}, "encoding": {"y": {"field": "lo", "type": "quantitative"}, "y2": {"field": "hi"}}},
      {"mark": {"type": "tick", "orient": "horizontal", "size": 6, "thickness": 2}, "encoding": {"y": {"field": "lo", "type": "quantitative"}}},
      {"mark": {"type": "tick", "orient": "horizontal", "size": 6, "thickness": 2}, "encoding": {"y": {"field": "hi", "type": "quantitative"}}},
      {"mark": {"type": "point", "filled": true, "size": 16, "opacity": 1}, "encoding": {"y": {"field": "mean", "type": "quantitative"}}}
     ]
    },
    {
     "data": {"name": "panelF"},
     "mark": {"type": "text", "align": "left", "baseline": "alphabetic", "fontSize": 17, "color": "black"},
     "encoding": {
      "x": {"datum": -0.79, "type": "quantitative", "scale": {"domain": [0, 4], "range": [335, 543]}, "axis": null},
      "y": {"datum": 1.458, "type": "quantitative", "scale": {"domain": [0, 1.5], "range": [233, 56]}, "axis": null},
      "text": {"field": "panel"}
     }
    },
    {
     "data": {"name": "legE"},
     "encoding": {"y": {"field": "row", "type": "quantitative", "scale": {"domain": [1, 3], "range": [301, 407]}, "axis": null}},
     "layer": [
      {"mark": {"type": "point", "shape": "M-10,-0.75H10V0.75H-10Z", "size": 4, "filled": true, "opacity": 1, "strokeWidth": 0}, "encoding": {"x": {"datum": "swatch", "type": "nominal", "scale": {"type": "point", "padding": 0, "domain": ["swatch", "label"], "range": [-26.5, -8]}, "axis": null}, "color": {"field": "series", "type": "nominal", "legend": null}}},
      {"mark": {"type": "point", "shape": "circle", "size": 10, "filled": true, "opacity": 1}, "encoding": {"x": {"datum": "swatch", "type": "nominal"}, "color": {"field": "series", "type": "nominal", "legend": null}}},
      {"mark": {"type": "text", "align": "left", "baseline": "middle", "fontSize": 15, "dy": -9, "color": "black"}, "encoding": {"x": {"datum": "label", "type": "nominal"}, "text": {"field": "series"}}},
      {"mark": {"type": "text", "align": "left", "baseline": "middle", "fontSize": 15, "dy": 9, "color": "black"}, "encoding": {"x": {"datum": "label", "type": "nominal"}, "text": {"field": "gc"}}}
     ]
    },
    {
     "data": {"name": "brkE"},
     "encoding": {"x": {"field": "level", "type": "quantitative", "scale": {"domain": [1, 3], "range": [173, 223]}, "axis": null}},
     "layer": [
      {"mark": {"type": "rule", "color": "black", "strokeWidth": 1.8, "yOffset": -16, "y2Offset": 18}, "encoding": {"y": {"field": "from", "type": "quantitative", "scale": {"domain": [1, 3], "range": [301, 407]}, "axis": null}, "y2": {"field": "to"}}},
      {"transform": [{"fold": ["from", "to"], "as": ["end", "pos"]}, {"aggregate": [{"op": "mean", "field": "pos", "as": "mid"}], "groupby": ["level", "stars", "from"]}], "mark": {"type": "text", "angle": 90, "fontSize": 24, "align": "center", "baseline": "middle", "xOffset": 8, "color": "black"}, "encoding": {"y": {"field": "mid", "type": "quantitative"}, "text": {"field": "stars"}}}
     ]
    },
    {
     "data": {"name": "legF"},
     "encoding": {"y": {"field": "row", "type": "quantitative", "scale": {"domain": [1, 4], "range": [296, 413]}, "axis": null}},
     "layer": [
      {"mark": {"type": "point", "shape": "M-10,-0.75H10V0.75H-10Z", "size": 4, "filled": true, "opacity": 1, "strokeWidth": 0}, "encoding": {"x": {"datum": "swatch", "type": "nominal", "scale": {"type": "point", "padding": 0, "domain": ["swatch", "label"], "range": [316, 333]}, "axis": null}, "color": {"field": "series", "type": "nominal", "legend": null}}},
      {"mark": {"type": "point", "shape": "circle", "size": 10, "filled": true, "opacity": 1}, "encoding": {"x": {"datum": "swatch", "type": "nominal"}, "color": {"field": "series", "type": "nominal", "legend": null}}},
      {"mark": {"type": "text", "align": "left", "baseline": "middle", "fontSize": 15, "dy": -9, "color": "black"}, "encoding": {"x": {"datum": "label", "type": "nominal"}, "text": {"field": "series"}}},
      {"mark": {"type": "text", "align": "left", "baseline": "middle", "fontSize": 15, "dy": 9, "color": "black"}, "encoding": {"x": {"datum": "label", "type": "nominal"}, "text": {"field": "gc"}}}
     ]
    },
    {
     "data": {"name": "brkF"},
     "encoding": {"x": {"field": "level", "type": "quantitative", "scale": {"domain": [1, 4], "range": [519, 600]}, "axis": null}},
     "layer": [
      {"mark": {"type": "rule", "color": "black", "strokeWidth": 1.8, "yOffset": -15, "y2Offset": 13}, "encoding": {"y": {"field": "from", "type": "quantitative", "scale": {"domain": [1, 4], "range": [296, 413]}, "axis": null}, "y2": {"field": "to"}}},
      {"transform": [{"fold": ["from", "to"], "as": ["end", "pos"]}, {"aggregate": [{"op": "mean", "field": "pos", "as": "mid"}], "groupby": ["level", "stars", "from"]}], "mark": {"type": "text", "angle": 90, "fontSize": 24, "align": "center", "baseline": "middle", "xOffset": 8, "color": "black"}, "encoding": {"y": {"field": "mid", "type": "quantitative"}, "text": {"field": "stars"}}}
     ]
    }
   ],
   "resolve": {"scale": {"x": "independent", "y": "independent"}}
  }
 ]
}
